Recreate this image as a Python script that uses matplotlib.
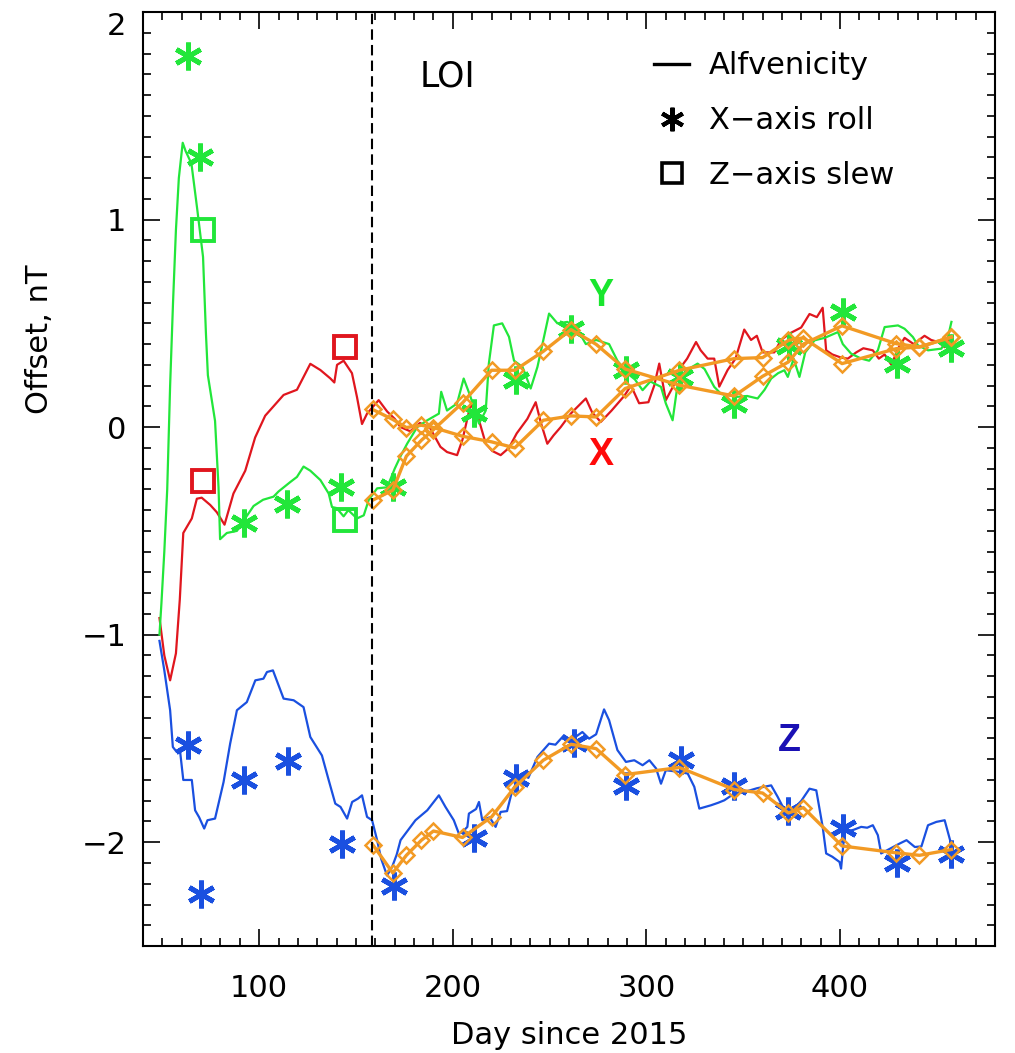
import matplotlib
matplotlib.use("Agg")
import matplotlib.pyplot as plt
from matplotlib.lines import Line2D
from matplotlib.ticker import MultipleLocator

# Alfvenicity offsets (lines)
x_alf_day = [48.5, 51, 54, 57, 59, 60.8, 65.2, 67.8, 70.3, 74.7, 78.1, 82.1, 86.7, 92.8, 97.9,
             103.1, 112.6, 119.5, 126.4, 131.6, 136.7, 138.8, 140.2, 143.6, 147.9, 150.5, 153.1,
             155.7, 161.7, 166.1, 170, 173, 178, 183, 188, 193.6, 197, 202.2, 205, 209.2, 213,
             217, 220.4, 224.7, 229, 233, 238.5, 242.8, 245.5, 248.8, 252, 255.7, 260.9, 264.3,
             268.7, 272, 276.4, 282, 288.5, 292, 296.2, 301, 304, 306.6, 310, 314, 317.8, 321,
             325.6, 328, 331.6, 335, 337.6, 341.9, 346, 350.5, 354, 357, 360, 366, 369.5, 374.7,
             379.9, 384.2, 388, 391, 392.8, 396, 400.5, 404, 408.3, 412, 416.9, 420, 423, 426.5,
             430, 433.3, 438, 443.6, 447, 450.6, 454, 457.5]
x_alf = [-0.92, -1.10, -1.22, -1.09, -0.83, -0.51, -0.44, -0.345, -0.34, -0.375, -0.41, -0.47,
         -0.32, -0.21, -0.05, 0.055, 0.155, 0.18, 0.305, 0.275, 0.235, 0.215, 0.30, 0.32, 0.26,
         0.145, 0.015, 0.065, 0.13, 0.075, 0.04, 0.0, -0.02, 0.02, 0.0, -0.095, -0.12, -0.135,
         -0.06, 0.11, 0.05, -0.08, -0.115, -0.135, -0.1, -0.03, 0.04, 0.12, 0.02, -0.08, -0.04,
         0.0, 0.065, 0.097, 0.138, 0.07, 0.025, 0.08, 0.15, 0.2, 0.115, 0.12, 0.2, 0.306, 0.13,
         0.2, 0.29, 0.33, 0.41, 0.37, 0.33, 0.33, 0.195, 0.275, 0.33, 0.47, 0.42, 0.44, 0.36,
         0.36, 0.42, 0.455, 0.48, 0.545, 0.53, 0.575, 0.37, 0.35, 0.335, 0.33, 0.36, 0.38, 0.37,
         0.33, 0.35, 0.30, 0.38, 0.43, 0.40, 0.44, 0.42, 0.41, 0.385, 0.44]

y_alf_day = [48.5, 49.5, 51, 52.5, 54, 55.5, 57, 58.5, 60.5, 62, 65, 68, 71, 72.5, 73.5, 77.2,
             79, 79.8, 83.3, 88.5, 92, 97.1, 102, 107.4, 110, 116, 119.5, 122.9, 126.4, 131.6,
             135.9, 137.6, 140, 143.6, 146, 150.5, 154, 156.6, 160.9, 166.1, 170, 173, 176.4,
             181.6, 186.8, 192.8, 194, 197, 202.2, 205.6, 209, 213.5, 217, 218.6, 221.2, 225.5,
             229, 231.6, 236, 240.2, 243.7, 247.1, 249.7, 254, 259.2, 265, 268.7, 274, 280.7, 285,
             290, 294, 298, 302, 307.5, 310, 313.5, 316, 320, 326.4, 330, 335, 338.5, 347, 352,
             357.4, 361, 364.4, 368, 371.2, 373, 376, 379, 382, 386.8, 392, 398.9, 401.4, 405.7,
             410.9, 415, 419.5, 423, 429.9, 433.3, 437.6, 440.2, 445.4, 452.3, 455.7, 457.5]
y_alf = [-1.0, -0.85, -0.6, -0.3, 0.2, 0.6, 0.95, 1.2, 1.37, 1.33, 1.27, 1.05, 0.82, 0.45, 0.25,
         0.03, -0.29, -0.54, -0.51, -0.50, -0.45, -0.38, -0.35, -0.335, -0.31, -0.265, -0.24,
         -0.19, -0.21, -0.255, -0.32, -0.385, -0.39, -0.43, -0.40, -0.44, -0.425, -0.35, -0.295,
         -0.29, -0.2, -0.14, -0.08, 0.0, 0.033, 0.065, 0.17, 0.08, 0.114, 0.234, 0.15, 0.017,
         0.08, 0.306, 0.49, 0.50, 0.435, 0.32, 0.29, 0.186, 0.29, 0.435, 0.547, 0.50, 0.507,
         0.46, 0.40, 0.42, 0.40, 0.32, 0.26, 0.23, 0.178, 0.22, 0.194, 0.114, 0.033, 0.2, 0.27,
         0.306, 0.28, 0.194, 0.16, 0.146, 0.15, 0.138, 0.18, 0.234, 0.26, 0.274, 0.242, 0.33,
         0.242, 0.36, 0.418, 0.43, 0.458, 0.40, 0.354, 0.33, 0.32, 0.37, 0.482, 0.49, 0.474,
         0.434, 0.394, 0.37, 0.378, 0.434, 0.507]

z_alf_day = [48.5, 51, 54, 55.4, 57.4, 59, 60.8, 65.2, 66.9, 69, 71.6, 73.3, 77.2, 81.6, 85,
             88.5, 93.6, 98, 102.2, 104, 107.1, 112.6, 117.8, 122.9, 126.4, 132.4, 135.9, 139.3,
             142, 145.4, 148, 151, 153.1, 155.7, 158.3, 160.9, 163, 166, 168.6, 171, 173, 180.7,
             186.8, 192.8, 196.2, 200.5, 203.1, 205, 207.5, 208.3, 212, 213.5, 215.2, 219, 222.1,
             224.7, 228, 230.7, 235.8, 239, 243.7, 249.7, 253, 257.4, 260.9, 266.9, 270.4, 274,
             278.1, 280.7, 285, 289.4, 293.7, 298, 301.5, 305, 307.5, 310, 316, 321.3, 324.7,
             327.3, 333.3, 337, 340.2, 345.4, 350.6, 357, 364.4, 367.8, 371, 376, 380, 384.2,
             387.7, 391, 392.8, 396, 399.7, 400.5, 402.3, 407, 410.9, 414, 416.9, 419.5, 421.2,
             426, 430.8, 434.3, 438.6, 442, 445.4, 449.7, 454, 457.5]
z_alf = [-1.03, -1.172, -1.364, -1.541, -1.565, -1.55, -1.70, -1.70, -1.846, -1.88, -1.934,
         -1.894, -1.886, -1.71, -1.525, -1.364, -1.325, -1.22, -1.212, -1.18, -1.172, -1.308,
         -1.316, -1.349, -1.493, -1.582, -1.701, -1.814, -1.83, -1.886, -1.806, -1.79, -1.774,
         -1.878, -1.894, -1.99, -2.08, -2.16, -2.12, -2.06, -1.99, -1.894, -1.846, -1.774, -1.83,
         -1.894, -1.958, -1.95, -1.926, -1.862, -1.84, -1.806, -1.894, -1.88, -1.926, -1.854,
         -1.85, -1.75, -1.669, -1.69, -1.589, -1.525, -1.53, -1.485, -1.509, -1.469, -1.501,
         -1.48, -1.36, -1.412, -1.556, -1.613, -1.605, -1.629, -1.605, -1.645, -1.718, -1.653,
         -1.66, -1.669, -1.733, -1.838, -1.822, -1.81, -1.798, -1.765, -1.758, -1.74, -1.726,
         -1.782, -1.84, -1.84, -1.80, -1.742, -1.75, -1.926, -2.054, -2.07, -2.095, -2.127,
         -1.95, -1.94, -1.926, -1.93, -1.918, -1.966, -2.054, -2.03, -2.006, -1.99, -2.023,
         -2.02, -1.918, -1.902, -1.894, -2.014]

# X-axis roll calibrations (asterisks)
y_roll_day = [63, 69.5, 92, 114.5, 142.5, 169.3, 211, 232.5, 261, 289.4, 317.5, 345.4, 373.8,
              401.4, 429.5, 457.5]
y_roll = [1.79, 1.30, -0.46, -0.37, -0.29, -0.29, 0.07, 0.225, 0.475, 0.275, 0.24, 0.11, 0.39,
          0.555, 0.305, 0.383]
z_roll_day = [63, 70, 92, 114.7, 142.8, 169.5, 211, 232.5, 262.6, 289.3, 317.8, 345.4, 373.3,
              401.4, 429.5, 457.5]
z_roll = [-1.53, -2.25, -1.70, -1.61, -2.01, -2.21, -1.98, -1.69, -1.52, -1.73, -1.605, -1.73,
          -1.85, -1.93, -2.10, -2.055]

# Z-axis slew calibrations (squares)
slew_day = [70.8, 144.1]
x_slew = [-0.26, 0.386]
y_slew = [0.948, -0.448]

# combined offsets after LOI (orange)
fit_day = [158.6, 169, 176, 183.8, 190, 205, 220, 232, 246.7, 261, 274, 289, 317, 345.3, 360,
           373.3, 381, 401, 429, 441, 457.5]
fit_x = [0.085, 0.037, -0.002, 0.009, -0.002, -0.044, -0.071, -0.100, 0.033, 0.054, 0.049,
         0.186, 0.274, 0.330, 0.335, 0.418, 0.43, 0.306, 0.378, 0.386, 0.434]
fit_y = [-0.352, -0.304, -0.14, -0.063, -0.012, 0.117, 0.274, 0.274, 0.365, 0.47, 0.399, 0.28,
         0.202, 0.15, 0.245, 0.314, 0.40, 0.488, 0.402, 0.386, 0.434]
fit_z = [-2.011, -2.148, -2.063, -1.990, -1.946, -1.977, -1.878, -1.734, -1.605, -1.528, -1.549,
         -1.674, -1.640, -1.746, -1.763, -1.859, -1.833, -2.018, -2.051, -2.063, -2.035]

loi_day = 158.5

red = '#E0161E'
green = '#22E63A'
blue = '#1A50E0'
orange = '#F29A24'
ast = (6, 2, 0)

fig = plt.figure(figsize=(10.15, 10.53), dpi=100)
ax = fig.add_axes([0.1409, 0.1016, 0.8394, 0.887])

ax.plot(x_alf_day, x_alf, color=red, lw=1.6)
ax.plot(y_alf_day, y_alf, color=green, lw=1.6)
ax.plot(z_alf_day, z_alf, color=blue, lw=1.6)

ax.plot(y_roll_day, y_roll, ls='none', marker=ast, ms=20, mew=3.5, color=green)
ax.plot(z_roll_day, z_roll, ls='none', marker=ast, ms=20, mew=3.5, color=blue)
ax.plot(slew_day, x_slew, ls='none', marker='s', ms=16, mew=2.8, mfc='none', mec=red)
ax.plot(slew_day, y_slew, ls='none', marker='s', ms=16, mew=2.8, mfc='none', mec=green)

for vals in (fit_x, fit_y, fit_z):
    ax.plot(fit_day, vals, color=orange, lw=2.4, marker='D', ms=8, mew=1.8, mfc='none',
            mec=orange)

ax.axvline(loi_day, color='black', lw=1.5, ls=(0, (5, 2.5)))

ax.text(197, 1.69, 'LOI', fontsize=25, ha='center', va='center')
ax.text(276.5, 0.63, 'Y', color='#19E62E', fontsize=27, fontweight='bold',
        family='Liberation Sans', ha='center', va='center')
ax.text(276.5, -0.135, 'X', color='#FF0A0A', fontsize=27, fontweight='bold',
        family='Liberation Sans', ha='center', va='center')
ax.text(373.7, -1.51, 'Z', color='#1A10B4', fontsize=27, fontweight='bold',
        family='Liberation Sans', ha='center', va='center')

handles = [Line2D([], [], color='black', lw=2.4),
           Line2D([], [], ls='none', marker=ast, ms=17, mew=3, color='black'),
           Line2D([], [], ls='none', marker='s', ms=15, mew=2.6, mfc='none', mec='black')]
ax.legend(handles, ['Alfvenicity', 'X\u2212axis roll', 'Z\u2212axis slew'], loc='upper left',
          bbox_to_anchor=(0.6, 0.958), frameon=False, fontsize=22, handlelength=1.15,
          handletextpad=0.65, labelspacing=0.85, borderpad=0, borderaxespad=0)

ax.set_xlim(40, 480)
ax.set_ylim(-2.5, 2)
ax.xaxis.set_major_locator(MultipleLocator(100))
ax.xaxis.set_minor_locator(MultipleLocator(10))
ax.yaxis.set_major_locator(MultipleLocator(1))
ax.yaxis.set_minor_locator(MultipleLocator(0.1))
ax.tick_params(which='both', direction='in', top=True, right=True, width=1.2)
ax.tick_params(which='major', length=12)
ax.tick_params(which='minor', length=6)
ax.tick_params(axis='x', labelsize=22, pad=20)
ax.tick_params(axis='y', labelsize=22, pad=12)
for s in ax.spines.values():
    s.set_linewidth(1.5)

ax.set_xticks([100, 200, 300, 400])
ax.set_yticks([-2, -1, 0, 1, 2])
ax.set_yticklabels(['\u22122', '\u22121', '0', '1', '2'])
ax.get_yticklabels()[-1].set_va('top')

ax.set_xlabel('Day since 2015', fontsize=22)
ax.set_ylabel('Offset, nT', fontsize=22)
ax.yaxis.set_label_coords(-0.105, 0.65)
ax.xaxis.set_label_coords(0.5, -0.08)

fig.savefig('out.png', dpi=100)
